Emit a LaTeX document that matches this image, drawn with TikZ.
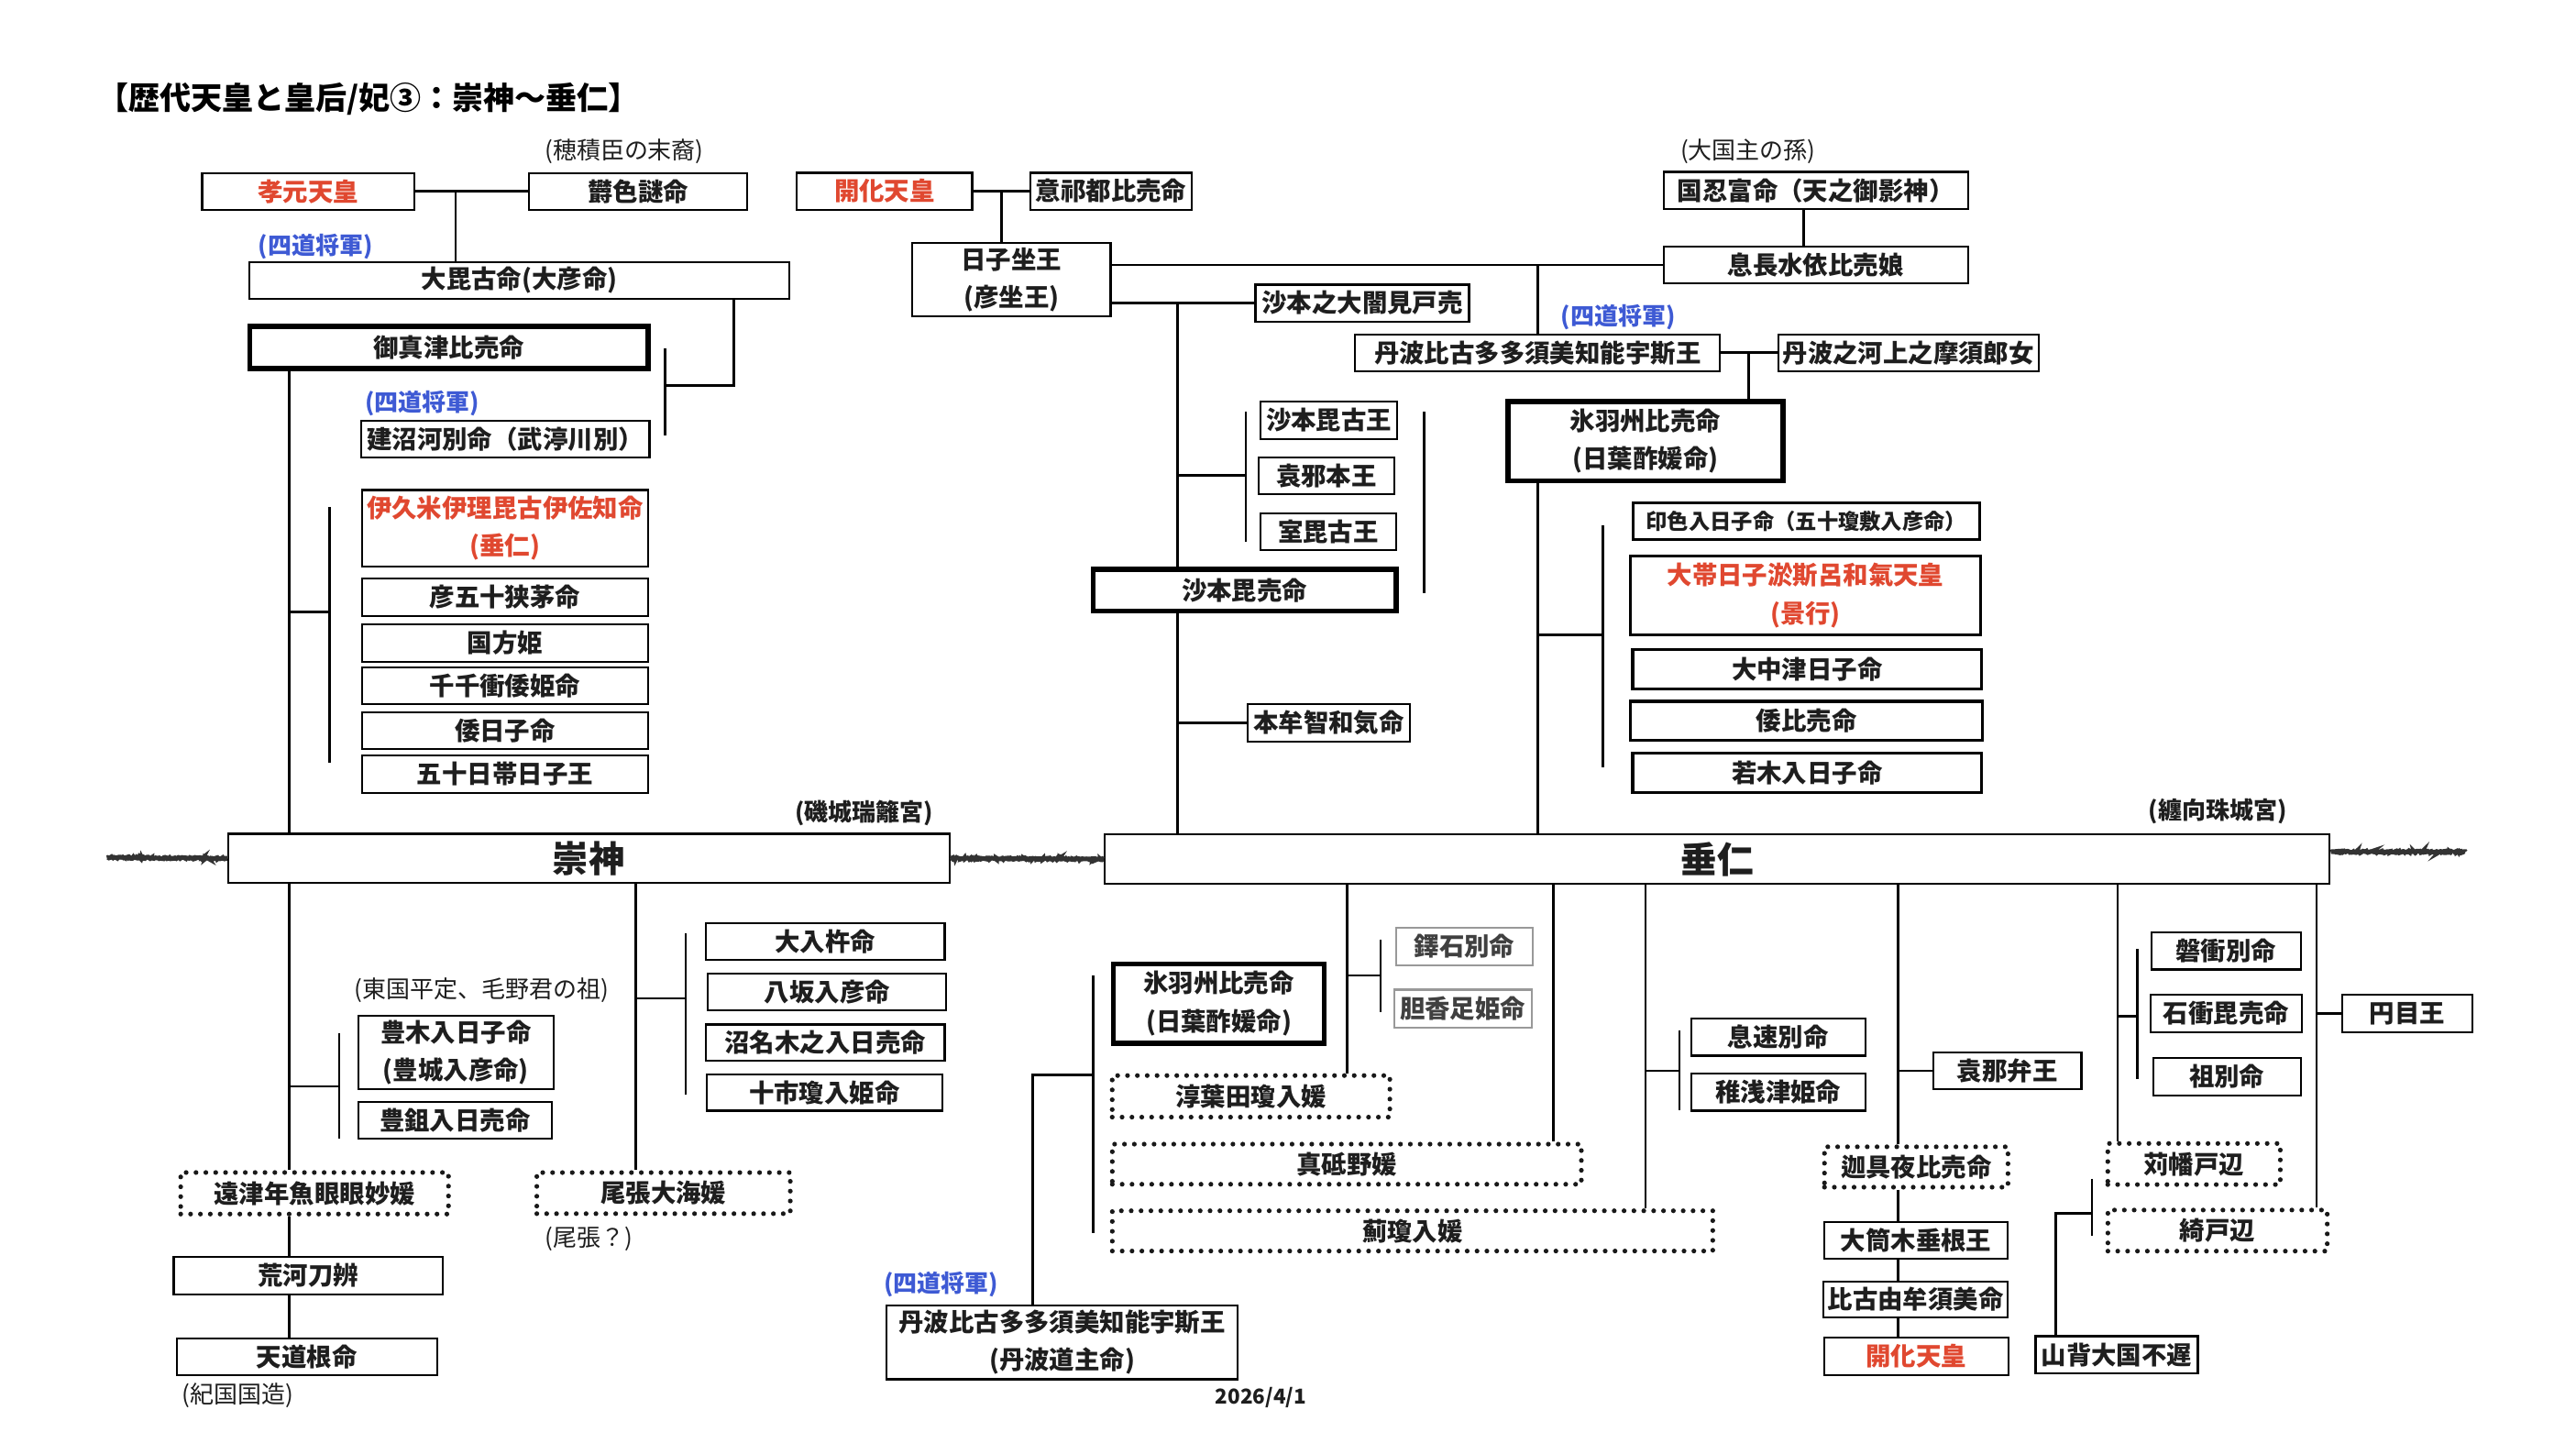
\documentclass[tikz,border=0pt]{standalone}
\usepackage{fontspec}
\setmainfont{Noto Sans CJK JP}
\usetikzlibrary{positioning,calc,decorations.pathmorphing}
\definecolor{tennored}{RGB}{224,72,48}
\definecolor{shogunblue}{RGB}{62,90,212}
\definecolor{inkgray}{RGB}{30,30,30}
\newcommand\namefont{\fontsize{15.3}{23}\selectfont\bfseries}
\newcommand\notefont{\fontsize{14.5}{16}\selectfont}
\begin{document}
\begin{tikzpicture}[x=1pt,y=-1pt,
  box/.style={draw,line width=1.2pt,inner sep=0pt,minimum height=22.5pt,font=\namefont,align=center,text=inkgray},
  heavy/.style={box,line width=3pt},
  firm/.style={box,line width=1.8pt},
  faint/.style={box,draw=black!40,text=black!75},
  dotbox/.style={box,draw=black!90,line width=2.9pt,dash pattern=on 0pt off 6pt,line cap=round},
  tenno/.style={text=tennored},
  note/.style={font=\notefont,text=inkgray,inner sep=0pt},
  palace/.style={font=\fontsize{14.5}{16}\selectfont\bfseries,text=inkgray,inner sep=0pt},
  shogun/.style={font=\fontsize{14.5}{16}\selectfont\bfseries,text=shogunblue,inner sep=0pt},
  link/.style={line width=1.5pt},
  scrawl/.style={line width=2.8pt,black!80,decorate,decoration={random steps,segment length=0.6pt,amplitude=0.5pt}}]
  \useasboundingbox (0,0) rectangle (1568,878);
  \node[anchor=west,font=\fontsize{19}{21}\selectfont\bfseries,inner sep=0pt] (title) at (59,60.5) {【歴代天皇と皇后/妃③：崇神〜垂仁】};

  % emperors
  \node[palace] (mizugaki) at (526,495) {(磯城瑞籬宮)};
  \node[palace] (tamaki) at (1350,494) {(纏向珠城宮)};
  \node[box,minimum width=439.2pt,minimum height=30pt,font=\fontsize{22}{24}\selectfont\bfseries] (sujin) at (358.4,522.5) {崇神};
  \node[box,minimum width=745.5pt,minimum height=30pt,font=\fontsize{22}{24}\selectfont\bfseries] (jinnin) at (1045.3,523) {垂仁};
  \coordinate (scrawlL) at (65,522); \coordinate (scrawlR) at (1500.7,518.5);
  \pgfmathsetseed{7}
  \draw[scrawl] (scrawlL) -- (sujin.west);
  \draw[scrawl] (sujin.east) -- (jinnin.west);
  \draw[scrawl] (jinnin.east |- scrawlR) -- (scrawlR);

  % Kogen line
  \node[note] (hozumi) at (380,92) {(穂積臣の末裔)};
  \node[box,tenno,minimum width=129pt] (kogen) at (187.5,116.5) {孝元天皇};
  \node[box,minimum width=133pt] (utsushi) at (388.5,116.5) {欝色謎命};
  \node[shogun] (shogunA) at (192,150) {(四道将軍)};
  \node[box,minimum width=328.5pt] (ohbiko) at (316.2,170.7) {大毘古命(大彦命)};
  \node[heavy,minimum width=242.6pt,minimum height=25.5pt] (mimatsu) at (273.3,211.5) {御真津比売命};
  \node[shogun] (shogunB) at (257,245.5) {(四道将軍)};
  \node[box,minimum width=175.7pt] (takenuna) at (307.5,267.2) {建沼河別命（武渟川別）};
  \node[box,tenno,minimum width=174pt,minimum height=46.5pt] (ikume) at (307.4,321.5) {伊久米伊理毘古伊佐知命\\(垂仁)};
  \node[box,minimum width=174pt] (hikoisa) at (307.4,363.5) {彦五十狭茅命};
  \node[box,minimum width=174pt] (kunibu) at (307.4,391.4) {国方姫};
  \node[box,minimum width=174pt] (chichi) at (307.4,417.5) {千千衝倭姫命};
  \node[box,minimum width=174pt] (yamatohiko) at (307.4,444.6) {倭日子命};
  \node[box,minimum width=174pt] (ikayo) at (307.4,471.2) {五十日帯日子王};

  \coordinate (kogenJ) at (277.4,116.5);
  \coordinate (ohbikoJ) at (446.8,234.5);
  \coordinate (barA1) at (405,212); \coordinate (barA2) at (405,265);
  \coordinate (colA) at (176,372.4);
  \coordinate (barB1) at (200.5,308.8); \coordinate (barB2) at (200.5,464.5);
  \draw[link] (kogen.east) -- (utsushi.west);
  \draw[link] (kogenJ) -- (kogenJ |- ohbiko.north);
  \draw[link] (ohbikoJ |- ohbiko.south) -- (ohbikoJ) -- (ohbikoJ -| barA1);
  \draw[link] (barA1) -- (barA2);
  \draw[link] (colA |- mimatsu.south) -- (colA |- sujin.north);
  \draw[link] (barB1) -- (barB2);
  \draw[link] (colA) -- (colA -| barB1);

  % Kaika line
  \node[box,tenno,minimum width=106.7pt] (kaikaA) at (538.4,116.4) {開化天皇};
  \node[box,minimum width=98pt] (oketsu) at (676.3,116.4) {意祁都比売命};
  \node[box,minimum width=120.6pt,minimum height=44.7pt] (hikoimasu) at (615.7,170.1) {日子坐王\\(彦坐王)};
  \node[box,minimum width=130pt] (ookurami) at (829.2,184.5) {沙本之大闇見戸売};
  \node[shogun] (shogunC) at (985,193) {(四道将軍)};
  \node[box,minimum width=222.2pt] (tanbaA) at (935.9,214.7) {丹波比古多多須美知能宇斯王};
  \node[note] (okuni) at (1064,92.4) {(大国主の孫)};
  \node[box,minimum width=185.2pt] (kunioshi) at (1105.2,115.9) {国忍富命（天之御影神）};
  \node[box,minimum width=185.2pt] (okinaga) at (1105.2,161.2) {息長水依比売娘};
  \node[box,minimum width=158.5pt] (kawakami) at (1161.6,214.7) {丹波之河上之摩須郎女};
  \node[heavy,minimum width=167.5pt,minimum height=48.4pt] (hibasuA) at (1001.6,268.5) {氷羽州比売命\\(日葉酢媛命)};
  \node[box,minimum width=83.3pt] (sahobiko) at (808.9,255.8) {沙本毘古王};
  \node[box,minimum width=82.7pt] (ozaho) at (807.4,289.5) {袁邪本王};
  \node[box,minimum width=82.5pt] (murobiko) at (808.5,323.5) {室毘古王};
  \node[heavy,minimum width=184.3pt,minimum height=25.5pt] (sahohime) at (757.6,359.3) {沙本毘売命};
  \node[box,minimum width=99pt] (homuchi) at (808.8,440) {本牟智和気命};
  \node[firm,minimum width=211pt,font=\fontsize{13}{16}\selectfont\bfseries] (inishiki) at (1099.5,317.3) {印色入日子命（五十瓊敷入彦命）};
  \node[firm,tenno,minimum width=213pt,minimum height=48pt] (keiko) at (1099,362.5) {大帯日子淤斯呂和氣天皇\\(景行)};
  \node[firm,minimum width=212.5pt,minimum height=23.8pt] (oonakatsu) at (1100,407.4) {大中津日子命};
  \node[firm,minimum width=214.3pt,minimum height=23.6pt] (yamatohime) at (1099.6,438.7) {倭比売命};
  \node[firm,minimum width=212.5pt,minimum height=24pt] (wakaki) at (1100,470.6) {若木入日子命};

  \coordinate (kaikaJ) at (609.5,116.4);
  \coordinate (okinagaJ) at (936,161.2);
  \coordinate (kuniJ) at (1098,140);
  \coordinate (sahoJ) at (716.6,184.5);
  \coordinate (barC1) at (758.3,250.5); \coordinate (barC2) at (758.3,329.6);
  \coordinate (barD1) at (866.7,250.6); \coordinate (barD2) at (866.7,361);
  \coordinate (tanbaJ) at (1064.3,214.7);
  \coordinate (keikoJ) at (936,386.5);
  \coordinate (barE1) at (975.6,320); \coordinate (barE2) at (975.6,467.3);
  \draw[link] (kaikaA.east) -- (oketsu.west);
  \draw[link] (kaikaJ) -- (kaikaJ |- hikoimasu.north);
  \draw[link] (hikoimasu.east |- okinaga.west) -- (okinaga.west);
  \draw[link] (okinagaJ) -- (okinagaJ |- tanbaA.north);
  \draw[link] (kuniJ |- kunioshi.south) -- (kuniJ |- okinaga.north);
  \draw[link] (hikoimasu.east |- ookurami.west) -- (ookurami.west);
  \draw[link] (sahoJ) -- (sahoJ |- sahohime.north);
  \draw[link] (sahoJ |- sahohime.south) -- (sahoJ |- jinnin.north);
  \draw[link] (barC1) -- (barC2);
  \draw[link] (sahoJ |- ozaho.west) -- (ozaho.west -| barC1);
  \draw[link] (barD1) -- (barD2);
  \draw[link] (sahoJ |- homuchi.west) -- (homuchi.west);
  \draw[link] (tanbaA.east) -- (kawakami.west);
  \draw[link] (tanbaJ) -- (tanbaJ |- hibasuA.north);
  \draw[link] (okinagaJ |- hibasuA.south) -- (okinagaJ |- jinnin.north);
  \draw[link] (barE1) -- (barE2);
  \draw[link] (keikoJ) -- (keikoJ -| barE1);

  % Sujin children
  \node[note] (togoku) at (293,602.6) {(東国平定、毛野君の祖)};
  \node[box,minimum width=119pt,minimum height=44.6pt] (toyoki) at (277.5,640.7) {豊木入日子命\\(豊城入彦命)};
  \node[box,minimum width=118pt] (toyosuki) at (277,681.8) {豊鉏入日売命};
  \node[dotbox,minimum width=163pt,minimum height=25.3pt] (tootsu) at (191.5,726.3) {遠津年魚眼眼妙媛};
  \node[dotbox,minimum width=154.3pt,minimum height=25pt] (owari) at (403.9,726.2) {尾張大海媛};
  \node[note] (owariQ) at (358.5,754) {(尾張？)};
  \node[box,minimum width=163.7pt] (arakawa) at (187.6,776.5) {荒河刀辨};
  \node[box,minimum width=158.5pt] (amaji) at (186.8,825.8) {天道根命};
  \node[note] (kii) at (144.7,849.6) {(紀国国造)};
  \node[box,minimum width=145.5pt,minimum height=22pt] (ooiri) at (502.3,573) {大入杵命};
  \node[box,minimum width=145pt] (yasaka) at (503.5,603.8) {八坂入彦命};
  \node[box,minimum width=145.5pt,minimum height=22pt] (nunaki) at (502.3,634.6) {沼名木之入日売命};
  \node[box,minimum width=143.5pt,minimum height=22pt] (toochi) at (501.8,665) {十市瓊入姫命};

  \coordinate (toyoJ) at (176,661.3);
  \coordinate (barF1) at (206.5,629); \coordinate (barF2) at (206.5,693);
  \coordinate (owariJ) at (387,607.7);
  \coordinate (barG1) at (417.4,568); \coordinate (barG2) at (417.4,666);
  \draw[link] (colA |- sujin.south) -- (colA |- tootsu.north);
  \draw[link] (colA |- tootsu.south) -- (colA |- arakawa.north);
  \draw[link] (colA |- arakawa.south) -- (colA |- amaji.north);
  \draw[link] (barF1) -- (barF2);
  \draw[link] (toyoJ) -- (toyoJ -| barF1);
  \draw[link] (owariJ |- sujin.south) -- (owariJ |- owari.north);
  \draw[link] (barG1) -- (barG2);
  \draw[link] (owariJ) -- (owariJ -| barG1);

  % Jinnin children
  \node[heavy,minimum width=128.1pt,minimum height=48.4pt] (hibasuB) at (741.9,610.8) {氷羽州比売命\\(日葉酢媛命)};
  \node[dotbox,minimum width=169pt,minimum height=25.3pt] (nunoha) at (761.5,667.3) {淳葉田瓊入媛};
  \node[dotbox,minimum width=285.5pt,minimum height=24.4pt] (matono) at (819.8,708.6) {真砥野媛};
  \node[dotbox,minimum width=365.5pt,minimum height=24.5pt] (azami) at (859.8,749.2) {薊瓊入媛};
  \node[shogun] (shogunD) at (573,782) {(四道将軍)};
  \node[box,minimum width=213.6pt,minimum height=45pt] (tanbaB) at (646.5,817) {丹波比古多多須美知能宇斯王\\(丹波道主命)};
  \node[font=\fontsize{12.5}{14}\selectfont\bfseries,text=inkgray,inner sep=0pt] (date) at (767.5,850.4) {2026/4/1};
  \node[faint,minimum width=83.3pt,minimum height=23pt] (nuteshi) at (891.4,576) {鐸石別命};
  \node[faint,minimum width=83.6pt,minimum height=23pt] (ikatara) at (890.4,613.9) {胆香足姫命};
  \node[box,minimum width=106pt] (ikihaya) at (1082.4,631.3) {息速別命};
  \node[box,minimum width=106pt] (wakaasa) at (1082.4,664.8) {稚浅津姫命};
  \node[box,minimum width=90pt] (onabe) at (1221.9,651.8) {袁那弁王};
  \node[dotbox,minimum width=111.7pt,minimum height=24.6pt] (kaguya) at (1166.4,710.3) {迦具夜比売命};
  \node[box,minimum width=111.8pt,minimum height=22pt] (ootsutsuki) at (1166.3,755) {大筒木垂根王};
  \node[box,minimum width=112.2pt,minimum height=22pt] (hikoyumu) at (1166,791) {比古由牟須美命};
  \node[box,tenno,minimum width=112.3pt,minimum height=23pt] (kaikaB) at (1166.4,825.5) {開化天皇};
  \node[box,minimum width=90.7pt] (iwatsuku) at (1355,578.8) {磐衝別命};
  \node[box,minimum width=92pt] (ishitsuku) at (1355,616.9) {石衝毘売命};
  \node[box,minimum width=89.7pt,minimum height=23pt] (oowake) at (1355.5,655.3) {祖別命};
  \node[box,minimum width=79.4pt] (tsubura) at (1465.3,616.9) {円目王};
  \node[dotbox,minimum width=105pt,minimum height=25pt] (kariba) at (1335.5,708.5) {苅幡戸辺};
  \node[dotbox,minimum width=133.5pt,minimum height=25pt] (kaniha) at (1349.8,749) {綺戸辺};
  \node[box,minimum width=98.8pt] (yamashiro) at (1288.4,824.5) {山背大国不遅};

  \coordinate (hibasuJ) at (628.7,654.2);
  \coordinate (barH1) at (665.3,593.7); \coordinate (barH2) at (665.3,750.5);
  \coordinate (nunohaJ) at (820,593.7);
  \coordinate (barI1) at (840.4,572); \coordinate (barI2) at (840.4,616);
  \coordinate (matonoJ) at (945.4,600);
  \coordinate (azamiJ) at (1001.6,651.7);
  \coordinate (barJ1) at (1022.3,627); \coordinate (barJ2) at (1022.3,676);
  \coordinate (kaguyaJ) at (1155.2,654.2);
  \coordinate (karibaJ) at (1289,618.4);
  \coordinate (barK1) at (1301,577.7); \coordinate (barK2) at (1301,656.6);
  \coordinate (kanihaJ) at (1410,616.9);
  \coordinate (yamaJ) at (1251.4,738.6);
  \coordinate (barL1) at (1273.4,717.5); \coordinate (barL2) at (1273.4,752);
  \draw[link] (barH1) -- (barH2);
  \draw[link] (hibasuJ -| barH1) -- (hibasuJ) -- (hibasuJ |- tanbaB.north);
  \draw[link] (nunohaJ |- jinnin.south) -- (nunohaJ |- nunoha.north);
  \draw[link] (barI1) -- (barI2);
  \draw[link] (nunohaJ) -- (nunohaJ -| barI1);
  \draw[link] (matonoJ |- jinnin.south) -- (matonoJ |- matono.north);
  \draw[link] (azamiJ |- jinnin.south) -- (azamiJ |- azami.north);
  \draw[link] (barJ1) -- (barJ2);
  \draw[link] (azamiJ) -- (azamiJ -| barJ1);
  \draw[link] (kaguyaJ |- jinnin.south) -- (kaguyaJ |- kaguya.north);
  \draw[link] (kaguyaJ |- onabe.west) -- (onabe.west);
  \draw[link] (kaguyaJ |- kaguya.south) -- (kaguyaJ |- ootsutsuki.north);
  \draw[link] (kaguyaJ |- ootsutsuki.south) -- (kaguyaJ |- hikoyumu.north);
  \draw[link] (kaguyaJ |- hikoyumu.south) -- (kaguyaJ |- kaikaB.north);
  \draw[link] (karibaJ |- jinnin.south) -- (karibaJ |- kariba.north);
  \draw[link] (barK1) -- (barK2);
  \draw[link] (karibaJ) -- (karibaJ -| barK1);
  \draw[link] (kanihaJ |- jinnin.south) -- (kanihaJ |- kaniha.north);
  \draw[link] (kanihaJ) -- (tsubura.west);
  \draw[link] (barL1) -- (barL2);
  \draw[link] (yamaJ -| barL1) -- (yamaJ) -- (yamaJ |- yamashiro.north);
\end{tikzpicture}
\end{document}
